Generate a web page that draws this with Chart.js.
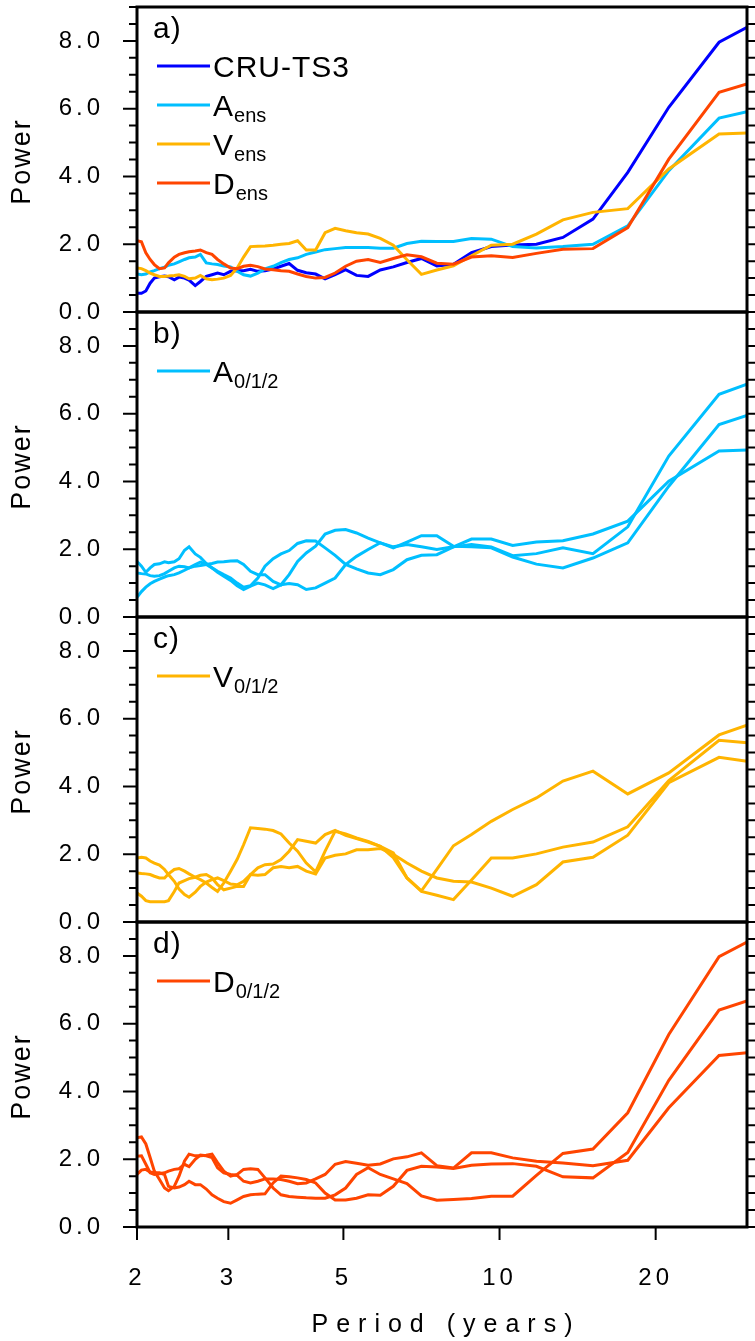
<!DOCTYPE html>
<html>
<head>
<meta charset="utf-8">
<script src="https://cdn.jsdelivr.net/npm/chart.js@4.4.1/dist/chart.umd.min.js"></script>
<style>
  html, body { margin: 0; padding: 0; background: #fff; }
  #wrap { width: 755px; height: 1341px; position: relative; }
</style>
</head>
<body>
<div id="wrap"><canvas id="chart" width="755" height="1341"></canvas></div>
<script>
// sampled periods (years)
const periods = [2.00, 2.04, 2.08, 2.12, 2.16, 2.21, 2.26, 2.30, 2.36, 2.41, 2.47, 2.52, 2.59, 2.65, 2.72, 2.79, 2.86, 2.94,
  3.03, 3.12, 3.21, 3.31, 3.42, 3.53, 3.66, 3.79, 3.93, 4.08, 4.24, 4.42, 4.61, 4.82, 5.05, 5.30, 5.58, 5.89,
  6.24, 6.63, 7.07, 7.57, 8.15, 8.83, 9.64, 10.60, 11.78, 13.25, 15.14, 17.67, 21.20, 26.50, 30.00];

const xTicks = [2, 3, 5, 10, 20];

// panel a
const cruTs3 = [0.55, 0.55, 0.62, 0.85, 1.00, 1.04, 1.06, 1.04, 0.95, 1.03, 1.00, 0.94, 0.78, 0.90, 1.05, 1.10, 1.15, 1.10,
  1.20, 1.22, 1.22, 1.26, 1.20, 1.22, 1.27, 1.35, 1.43, 1.23, 1.16, 1.12, 0.98, 1.10, 1.25, 1.08, 1.05, 1.24,
  1.33, 1.46, 1.58, 1.36, 1.41, 1.75, 1.93, 1.98, 2.00, 2.20, 2.74, 4.12, 6.04, 7.96, 8.40];
const aEns = [1.12, 1.10, 1.12, 1.18, 1.22, 1.28, 1.32, 1.38, 1.42, 1.48, 1.55, 1.60, 1.62, 1.70, 1.45, 1.42, 1.40, 1.36,
  1.33, 1.20, 1.10, 1.06, 1.15, 1.27, 1.35, 1.46, 1.55, 1.60, 1.70, 1.77, 1.84, 1.87, 1.90, 1.90, 1.90, 1.88,
  1.88, 2.02, 2.09, 2.08, 2.08, 2.17, 2.15, 1.93, 1.89, 1.93, 2.00, 2.54, 4.17, 5.72, 5.91];
const vEns = [1.30, 1.28, 1.22, 1.15, 1.10, 1.05, 1.05, 1.06, 1.08, 1.10, 1.05, 0.98, 1.00, 1.08, 0.98, 0.95, 0.97, 1.00,
  1.08, 1.30, 1.62, 1.93, 1.94, 1.95, 1.97, 2.00, 2.02, 2.10, 1.83, 1.83, 2.34, 2.47, 2.40, 2.34, 2.30, 2.17,
  1.97, 1.54, 1.11, 1.24, 1.36, 1.66, 1.97, 2.00, 2.30, 2.72, 2.94, 3.05, 4.22, 5.25, 5.28];
const dEns = [2.10, 2.07, 1.75, 1.55, 1.40, 1.28, 1.30, 1.45, 1.62, 1.70, 1.75, 1.78, 1.80, 1.83, 1.75, 1.70, 1.55, 1.42,
  1.30, 1.28, 1.35, 1.38, 1.34, 1.27, 1.25, 1.22, 1.20, 1.12, 1.05, 1.00, 1.02, 1.15, 1.35, 1.50, 1.55, 1.46,
  1.58, 1.69, 1.63, 1.44, 1.41, 1.62, 1.66, 1.61, 1.73, 1.85, 1.87, 2.49, 4.51, 6.48, 6.73];

// panel b
const a0 = [1.64, 1.50, 1.32, 1.45, 1.55, 1.57, 1.63, 1.60, 1.63, 1.72, 1.97, 2.07, 1.86, 1.76, 1.58, 1.45, 1.32, 1.20,
  1.08, 0.92, 0.81, 0.91, 1.00, 0.95, 0.84, 0.95, 0.99, 0.95, 0.81, 0.86, 1.00, 1.15, 1.55, 1.79, 1.99, 2.19,
  2.07, 2.14, 2.07, 1.99, 2.07, 2.30, 2.30, 2.11, 2.21, 2.25, 2.45, 2.83, 4.01, 4.90, 4.93];
const a1 = [1.30, 1.28, 1.27, 1.22, 1.20, 1.22, 1.28, 1.35, 1.45, 1.50, 1.48, 1.45, 1.55, 1.62, 1.55, 1.45, 1.35, 1.25,
  1.15, 1.00, 0.88, 0.92, 1.15, 1.50, 1.72, 1.86, 1.96, 2.17, 2.25, 2.24, 2.04, 1.82, 1.55, 1.42, 1.30, 1.25,
  1.40, 1.69, 1.82, 1.84, 2.07, 2.14, 2.07, 1.81, 1.87, 2.04, 1.87, 2.66, 4.75, 6.57, 6.87];
const a2 = [0.58, 0.75, 0.88, 0.98, 1.05, 1.12, 1.18, 1.22, 1.25, 1.30, 1.38, 1.45, 1.50, 1.52, 1.55, 1.58, 1.62, 1.63,
  1.65, 1.66, 1.55, 1.35, 1.25, 1.25, 1.05, 0.95, 1.25, 1.64, 1.89, 2.09, 2.45, 2.56, 2.58, 2.48, 2.33, 2.19,
  2.04, 2.21, 2.40, 2.40, 2.09, 2.07, 2.04, 1.77, 1.56, 1.45, 1.74, 2.19, 3.86, 5.68, 5.95];

// panel c
const v0 = [1.89, 1.91, 1.89, 1.80, 1.74, 1.68, 1.55, 1.40, 1.20, 0.97, 0.81, 0.73, 0.88, 1.05, 1.18, 1.25, 1.30, 1.22,
  1.12, 1.10, 1.20, 1.40, 1.60, 1.69, 1.71, 1.84, 2.09, 2.43, 2.38, 2.33, 2.58, 2.70, 2.56, 2.46, 2.36, 2.23,
  1.90, 1.30, 0.90, 0.79, 0.66, 1.24, 1.89, 1.89, 2.01, 2.21, 2.36, 2.81, 4.17, 5.36, 5.29];
const v1 = [1.45, 1.43, 1.42, 1.40, 1.35, 1.30, 1.30, 1.42, 1.55, 1.58, 1.50, 1.42, 1.32, 1.25, 1.15, 1.02, 0.90, 1.15,
  1.50, 1.85, 2.28, 2.78, 2.76, 2.74, 2.70, 2.60, 2.33, 2.09, 1.74, 1.48, 2.09, 2.68, 2.60, 2.48, 2.38, 2.23,
  2.04, 1.30, 0.92, 1.55, 2.25, 2.58, 2.97, 3.32, 3.66, 4.16, 4.45, 3.78, 4.40, 5.52, 5.81];
const v2 = [0.86, 0.76, 0.63, 0.60, 0.60, 0.60, 0.60, 0.63, 0.90, 1.15, 1.22, 1.28, 1.32, 1.38, 1.40, 1.30, 1.10, 0.95,
  1.00, 1.05, 1.05, 1.40, 1.38, 1.40, 1.60, 1.64, 1.60, 1.64, 1.50, 1.42, 1.89, 1.97, 2.01, 2.13, 2.13, 2.17,
  2.00, 1.74, 1.50, 1.30, 1.20, 1.18, 1.00, 0.76, 1.10, 1.77, 1.91, 2.56, 4.11, 4.86, 4.74];

// panel d
const d0 = [2.63, 2.66, 2.45, 2.05, 1.65, 1.40, 1.15, 1.07, 1.20, 1.50, 1.95, 2.15, 2.10, 2.10, 2.12, 2.15, 1.90, 1.65,
  1.50, 1.55, 1.70, 1.72, 1.70, 1.45, 1.15, 0.95, 0.90, 0.88, 0.86, 0.85, 0.85, 0.95, 1.15, 1.55, 1.75, 1.55,
  1.42, 1.28, 0.92, 0.79, 0.81, 0.84, 0.91, 0.91, 1.52, 2.17, 2.30, 3.37, 5.68, 7.98, 8.41];
const d1 = [2.09, 2.10, 1.85, 1.60, 1.55, 1.57, 1.60, 1.65, 1.70, 1.72, 1.85, 1.78, 2.00, 2.12, 2.10, 2.05, 1.75, 1.60,
  1.55, 1.52, 1.35, 1.30, 1.35, 1.42, 1.42, 1.40, 1.35, 1.28, 1.30, 1.42, 1.55, 1.85, 1.93, 1.88, 1.82, 1.86,
  2.01, 2.07, 2.19, 1.81, 1.74, 2.19, 2.19, 2.04, 1.94, 1.89, 1.81, 1.97, 3.52, 5.06, 5.14];
const d2 = [1.55, 1.68, 1.70, 1.62, 1.60, 1.60, 1.55, 1.20, 1.15, 1.18, 1.25, 1.35, 1.25, 1.25, 1.12, 0.95, 0.85, 0.75,
  0.70, 0.80, 0.90, 0.95, 0.97, 0.98, 1.30, 1.50, 1.48, 1.45, 1.40, 1.30, 1.00, 0.80, 0.80, 0.85, 0.95, 0.94,
  1.20, 1.67, 1.79, 1.77, 1.73, 1.82, 1.86, 1.87, 1.79, 1.48, 1.45, 2.20, 4.33, 6.40, 6.67];

const BLUE = '#0000ff';
const CYAN = '#00bfff';
const GOLD = '#ffb400';
const RED = '#ff4500';

const panelIds = ['ya', 'yb', 'yc', 'yd'];
const panelLetters = ['a)', 'b)', 'c)', 'd)'];
const legends = {
  ya: [['CRU-TS3', '', BLUE], ['A', 'ens', CYAN], ['V', 'ens', GOLD], ['D', 'ens', RED]],
  yb: [['A', '0/1/2', CYAN]],
  yc: [['V', '0/1/2', GOLD]],
  yd: [['D', '0/1/2', RED]]
};

const FONT = '"Liberation Sans", Arial, Helvetica, sans-serif';

function line(values, color, axis, order) {
  return {
    data: periods.map((p, i) => ({ x: p, y: values[i] })),
    borderColor: color,
    borderWidth: 3,
    pointRadius: 0,
    tension: 0,
    fill: false,
    yAxisID: axis,
    order: order
  };
}

const datasets = [
  line(cruTs3, BLUE, 'ya', 4),
  line(aEns, CYAN, 'ya', 3),
  line(vEns, GOLD, 'ya', 2),
  line(dEns, RED, 'ya', 1),
  line(a0, CYAN, 'yb', 1), line(a1, CYAN, 'yb', 1), line(a2, CYAN, 'yb', 1),
  line(v0, GOLD, 'yc', 1), line(v1, GOLD, 'yc', 1), line(v2, GOLD, 'yc', 1),
  line(d0, RED, 'yd', 1), line(d1, RED, 'yd', 1), line(d2, RED, 'yd', 1)
];

function yScale(weight) {
  return {
    type: 'linear',
    position: 'left',
    stack: 'panels',
    stackWeight: 1,
    weight: weight,
    min: 0,
    max: 9,
    grid: { display: false, drawTicks: false },
    border: { display: false },
    ticks: {
      stepSize: 2,
      includeBounds: false,
      padding: 33,
      color: '#000',
      font: { family: FONT, size: 24 },
      callback: v => v.toFixed(1)
    },
    afterFit: s => {
      s.width = 137;
      s.paddingTop = 0;
      s.paddingBottom = 0;
    }
  };
}

const frame = {
  id: 'frame',
  beforeDraw(chart) {
    chart.ctx.letterSpacing = '4px';
  },
  afterDraw(chart) {
    const ctx = chart.ctx;
    const area = chart.chartArea;
    const xs = chart.scales.x;
    ctx.save();
    ctx.strokeStyle = '#000';
    ctx.fillStyle = '#000';
    ctx.lineCap = 'butt';

    panelIds.forEach((id, n) => {
      const s = chart.scales[id];

      // tick marks on both sides, major every 2, minor every 0.5
      ctx.lineWidth = 2;
      for (let v = s.min; v <= s.max + 1e-6; v += 0.5) {
        const y = s.getPixelForValue(v);
        const len = v % 2 === 0 ? 14 : 8;
        ctx.beginPath();
        ctx.moveTo(area.left - len, y);
        ctx.lineTo(area.left, y);
        ctx.moveTo(area.right, y);
        ctx.lineTo(area.right + len, y);
        ctx.stroke();
      }

      ctx.lineWidth = 3;
      ctx.strokeRect(area.left, s.top, area.right - area.left, s.bottom - s.top);

      // panel letter
      ctx.letterSpacing = '1px';
      ctx.font = '30px ' + FONT;
      ctx.textAlign = 'left';
      ctx.textBaseline = 'alphabetic';
      ctx.fillText(panelLetters[n], area.left + 16, s.top + 31);

      // legend
      legends[id].forEach((item, k) => {
        const ly = s.top + 59 + k * 39;
        ctx.strokeStyle = item[2];
        ctx.lineWidth = 3;
        ctx.beginPath();
        ctx.moveTo(area.left + 20, ly);
        ctx.lineTo(area.left + 73, ly);
        ctx.stroke();
        ctx.fillStyle = '#000';
        ctx.letterSpacing = '1px';
        ctx.font = '30px ' + FONT;
        const tx = area.left + 76;
        if (item[1]) {
          ctx.fillText(item[0], tx, ly + 11);
          const w = ctx.measureText(item[0]).width;
          ctx.font = '20px ' + FONT;
          ctx.letterSpacing = '0px';
          ctx.fillText(item[1], tx + w, ly + 17);
        } else {
          ctx.fillText(item[0], tx, ly + 11);
        }
      });
      ctx.strokeStyle = '#000';

      // axis title
      ctx.save();
      ctx.translate(23, (s.top + s.bottom) / 2 + 2);
      ctx.rotate(-Math.PI / 2);
      ctx.letterSpacing = '2px';
      ctx.font = '27px ' + FONT;
      ctx.textAlign = 'center';
      ctx.textBaseline = 'middle';
      ctx.fillText('Power', 0, 0);
      ctx.restore();
    });

    // bottom tick marks
    ctx.lineWidth = 2;
    xTicks.forEach(v => {
      const x = xs.getPixelForValue(v);
      ctx.beginPath();
      ctx.moveTo(x, area.bottom);
      ctx.lineTo(x, area.bottom + 13);
      ctx.stroke();
    });

    ctx.letterSpacing = '8px';
    ctx.font = '25px ' + FONT;
    ctx.textAlign = 'center';
    ctx.textBaseline = 'middle';
    ctx.fillText('Period (years)', (area.left + area.right) / 2 + 4, 1325);
    ctx.restore();
  }
};

new Chart(document.getElementById('chart'), {
  type: 'line',
  data: { datasets: datasets },
  options: {
    responsive: false,
    animation: false,
    devicePixelRatio: 1,
    layout: { padding: { top: 7, right: 8, left: 0, bottom: 0 } },
    plugins: { legend: { display: false }, tooltip: { enabled: false } },
    scales: {
      x: {
        type: 'logarithmic',
        position: 'bottom',
        min: 2,
        max: 30,
        grid: { display: false, drawTicks: false },
        border: { display: false },
        afterBuildTicks: s => { s.ticks = xTicks.map(v => ({ value: v })); },
        ticks: {
          autoSkip: false,
          maxRotation: 0,
          padding: 37,
          color: '#000',
          font: { family: FONT, size: 24 },
          callback: v => String(v)
        },
        afterFit: s => {
          s.height = 114;
          s.paddingLeft = 0;
          s.paddingRight = 0;
        }
      },
      yd: yScale(1),
      yc: yScale(2),
      yb: yScale(3),
      ya: yScale(4)
    }
  },
  plugins: [frame]
});
</script>
</body>
</html>
